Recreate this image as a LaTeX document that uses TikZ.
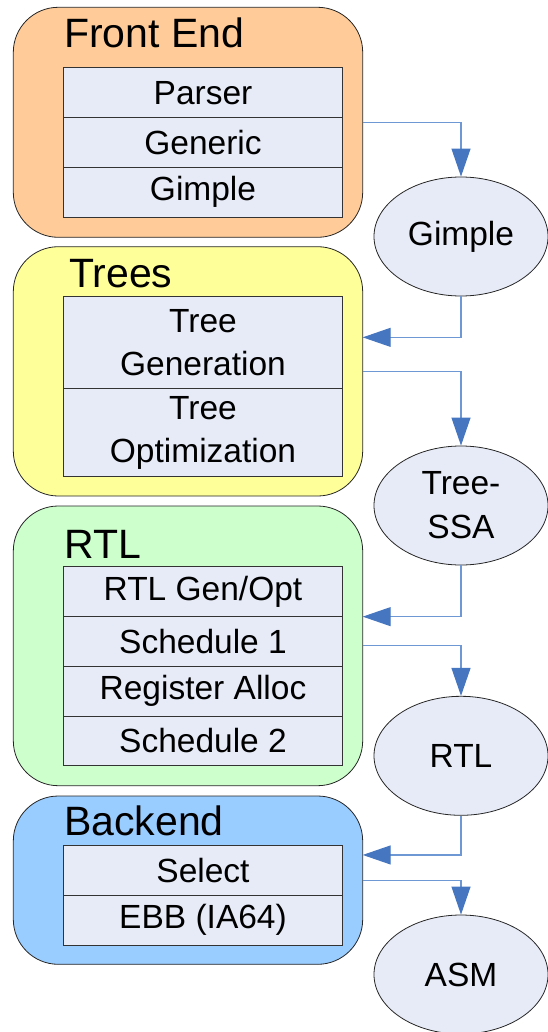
\documentclass[tikz,border=0pt]{standalone}
\usepackage{fontspec}
\setmainfont{Liberation Sans}
\usepackage{tikz}
\usetikzlibrary{shapes.geometric, arrows.meta, positioning}
\definecolor{frontfill}{RGB}{255,204,153}
\definecolor{treesfill}{RGB}{255,255,153}
\definecolor{rtlfill}{RGB}{204,255,204}
\definecolor{backfill}{RGB}{153,204,255}
\definecolor{layerfill}{RGB}{231,235,247}
\definecolor{flowline}{RGB}{110,152,212}
\definecolor{flowhead}{RGB}{70,118,192}
\tikzset{
    stage/.style={rectangle, rounded corners=45pt, draw=black!85, line width=0.8pt, minimum width=349.4pt, inner sep=0pt, outer sep=0pt},
    title/.style={anchor=base west, inner sep=0pt, font=\fontsize{41}{48}\selectfont},
    layer/.style={rectangle, draw=black!80, line width=0.9pt, fill=layerfill, minimum width=279.4pt, minimum height=49.8pt, inner sep=0pt, outer sep=0pt, align=center, font=\fontsize{33.5}{43}\selectfont},
    form/.style={ellipse, draw=black!85, line width=0.8pt, fill=layerfill, minimum width=174pt, minimum height=119pt, inner sep=0pt, align=center, font=\fontsize{33.5}{44}\selectfont},
    flow/.style={draw=flowline, line width=1.1pt, -{Triangle[length=28pt, width=19pt, color=flowhead]}}
}
\begin{document}
\begin{tikzpicture}[x=1pt, y=-1pt]
    \useasboundingbox (0,0) rectangle (548,1032);

    % Front End stage
    \node[stage, fill=frontfill, minimum height=230pt] (frontend) at (188,122.3) {};
    \node[title] (frontend_title) at (64,47.7) {Front End};
    \node[layer] (parser) at (203,92.7) {Parser};
    \node[layer, below=0pt of parser] (generic) {Generic};
    \node[layer, below=0pt of generic] (gimple_layer) {Gimple};

    % Trees stage
    \node[stage, fill=treesfill, minimum height=249.3pt] (trees) at (188,371.35) {};
    \node[title] (trees_title) at (69,287.3) {Trees};
    \node[layer, minimum height=92pt] (treegen) at (203,342.7) {Tree\\Generation};
    \node[layer, minimum height=88pt, below=0pt of treegen] (treeopt) {Tree\\Optimization};

    % RTL stage
    \node[stage, fill=rtlfill, minimum height=279.7pt] (rtl) at (188,645.85) {};
    \node[title] (rtl_title) at (64,558.3) {RTL};
    \node[layer] (rtlgen) at (203,591.6) {RTL Gen/Opt};
    \node[layer, below=0pt of rtlgen] (sched1) {Schedule 1};
    \node[layer, below=0pt of sched1] (regalloc) {Register Alloc};
    \node[layer, below=0pt of regalloc] (sched2) {Schedule 2};

    % Backend stage
    \node[stage, fill=backfill, minimum height=168.3pt] (backend) at (188,880.15) {};
    \node[title] (backend_title) at (64,835) {Backend};
    \node[layer] (select) at (203,870.4) {Select};
    \node[layer, below=0pt of select] (ebb) {EBB (IA64)};

    % Intermediate forms
    \node[form] (gimple) at (461,236.5) {Gimple};
    \node[form] (treessa) at (461,505.5) {Tree-\\SSA};
    \node[form] (rtl_form) at (461,755.8) {RTL};
    \node[form] (asm) at (461,974.5) {ASM};

    % Flow
    \draw[flow] (frontend.east) -| (gimple.north);
    \draw[flow] (gimple.south) |- ([yshift=34pt]trees.east);
    \draw[flow] (trees.east) -| (treessa.north);
    \draw[flow] (treessa.south) |- ([yshift=29.2pt]rtl.east);
    \draw[flow] (rtl.east) -| (rtl_form.north);
    \draw[flow] (rtl_form.south) |- ([yshift=25.2pt]backend.east);
    \draw[flow] (backend.east) -| (asm.north);
\end{tikzpicture}
\end{document}
